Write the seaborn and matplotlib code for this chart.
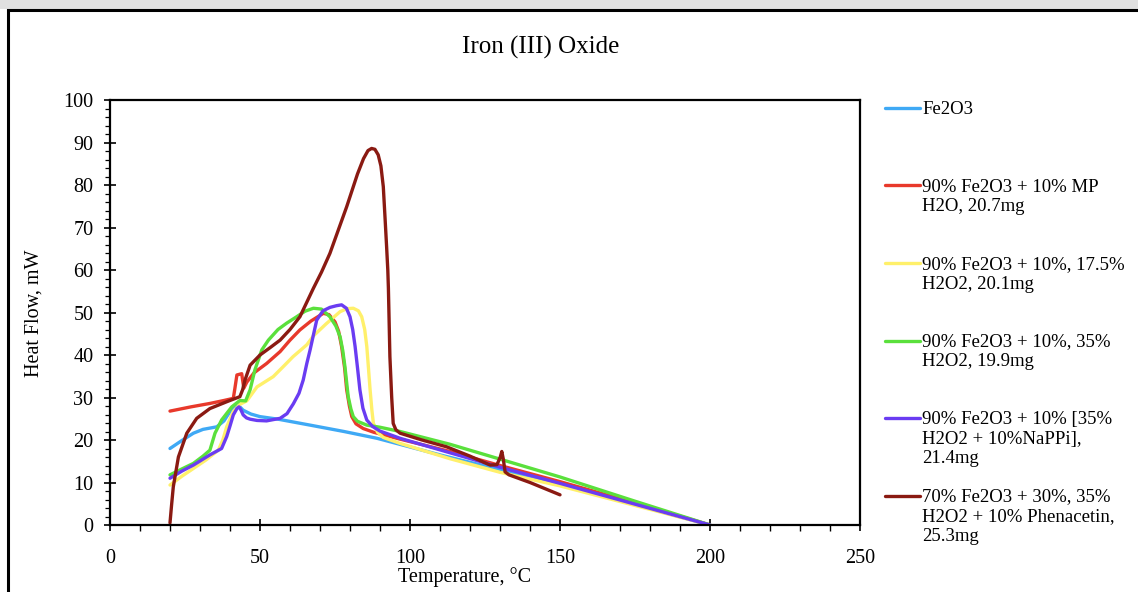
import matplotlib
matplotlib.use("Agg")
import matplotlib.pyplot as plt
from matplotlib.lines import Line2D
from matplotlib.patches import Rectangle
from matplotlib.ticker import MultipleLocator
import numpy as np
import pandas as pd
import seaborn as sns

# ---------------- data ----------------
title = "Iron (III) Oxide"
x_label = "Temperature, °C"
y_label = "Heat Flow, mW"

series_names = [
    "Fe2O3",
    "90% Fe2O3 + 10% MP\nH2O, 20.7mg",
    "90% Fe2O3 + 10%, 17.5%\nH2O2, 20.1mg",
    "90% Fe2O3 + 10%, 35%\nH2O2, 19.9mg",
    "90% Fe2O3 + 10% [35%\nH2O2 + 10%NaPPi],\n21.4mg",
    "70% Fe2O3 + 30%, 35%\nH2O2 + 10% Phenacetin,\n25.3mg",
]
series_colors = ["#3fa9f5", "#e8392b", "#fff06a", "#5ae03c", "#6a3cf2", "#8a1a12"]

fe2o3_t = [20, 24, 27.8, 31, 35.6, 38, 40, 41.8, 43, 44.4, 47, 50, 56, 66.7, 78, 89, 110, 130, 150, 175, 200]
fe2o3_v = [18, 19.9, 21.6, 22.5, 23.1, 24.5, 26.7, 27.8, 28.0, 27.0, 26.1, 25.5, 24.9, 23.5, 22.0, 20.4, 16.5, 13.0, 9.6, 4.8, 0]

mp_t = [20, 27, 33.3, 38, 41.1, 41.6, 42.3, 43.9, 44.6, 45.6, 48, 52.2, 56.7, 60, 63.3, 67, 71.1, 73, 75, 76.2, 77.2, 78.2, 78.9, 79.8, 80.6, 82, 84.4, 88, 96.7, 113.3, 130, 150, 175, 200]
mp_v = [26.8, 27.8, 28.6, 29.3, 29.8, 32.0, 35.3, 35.6, 32.2, 33.6, 35.8, 38.0, 40.8, 43.5, 45.9, 48.0, 49.8, 49.5, 47.8, 45.6, 42.0, 37.0, 31.8, 28.0, 25.5, 23.8, 22.7, 21.8, 20.2, 17.3, 14.0, 10.2, 5.2, 0]

h2o2_175_t = [20, 24, 27.8, 32, 36.1, 37.6, 38.9, 41.1, 43.3, 45.6, 49, 54.4, 57.8, 61, 65.6, 67.8, 72, 76.7, 79, 81.1, 82.8, 83.9, 84.9, 85.6, 86.2, 86.7, 87.3, 87.8, 89.2, 91.1, 96.7, 113.3, 130, 150, 175, 200]
h2o2_175_v = [9.4, 11.5, 13.3, 15.3, 17.6, 20.0, 23.1, 26.7, 28.4, 29.2, 32.5, 34.9, 37.3, 39.6, 42.4, 44.5, 47.3, 50.2, 50.9, 51.0, 50.4, 49.0, 46.0, 42.0, 36.5, 31.8, 27.0, 23.9, 21.8, 20.6, 19.2, 15.6, 12.4, 9.2, 4.6, 0]

h2o2_35_t = [20, 24, 27.8, 31, 33.3, 35, 37.2, 40.6, 43.3, 45.2, 46.7, 48.3, 50.6, 52.8, 56, 58.9, 62, 65, 67.8, 70.5, 73.3, 75.3, 76.7, 77.6, 78.3, 79.4, 80.3, 81.1, 82.5, 85.6, 90, 96.7, 113.3, 130, 150, 175, 200]
h2o2_35_v = [11.8, 13.2, 14.5, 16.2, 17.6, 21.6, 24.7, 27.8, 29.3, 29.2, 31.8, 36.5, 41.2, 43.5, 46.0, 47.5, 48.9, 50.3, 51.0, 50.8, 49.0, 46.8, 44.3, 41.0, 37.3, 30.2, 27.3, 25.5, 24.4, 23.5, 23.0, 22.0, 19.0, 15.5, 11.3, 5.6, 0]

nappi_t = [20, 24, 27.8, 33.3, 37.2, 38.9, 40, 41.1, 42.3, 43, 43.7, 44.4, 45.5, 46.7, 49, 52.2, 56.7, 59, 61.1, 63, 64.4, 65.6, 66.7, 68.9, 71, 73.3, 75.5, 77.2, 78.8, 80, 80.9, 81.7, 82.5, 83.3, 84.3, 85.6, 87.5, 90, 96.7, 113.3, 130, 150, 175, 200]
nappi_v = [11.0, 12.7, 14.1, 16.5, 18.0, 20.8, 23.3, 25.9, 27.4, 27.8, 27.0, 25.9, 25.2, 24.9, 24.6, 24.5, 25.1, 26.2, 28.5, 31.0, 34.1, 38.0, 41.2, 48.2, 50.4, 51.2, 51.6, 51.8, 51.0, 49.0, 46.0, 42.0, 37.0, 31.8, 27.5, 24.7, 23.2, 22.1, 20.4, 17.0, 13.6, 9.8, 4.9, 0]

phen_t = [20, 20.5, 21.1, 22.8, 25.6, 28.9, 33.3, 38.9, 43.3, 44.2, 45, 46.7, 50, 53.5, 56.7, 60, 63.3, 67.8, 70.5, 73.3, 78.9, 82.5, 84.5, 86.0, 87.2, 88.3, 89.4, 90.3, 91.1, 91.7, 92.2, 92.6, 92.8, 93.3, 93.9, 94.4, 95.3, 96.7, 104, 112.2, 120, 126.7, 129, 130.1, 130.6, 131.1, 131.7, 133, 140, 150]
phen_v = [0.5, 4.5, 9.0, 16.0, 21.6, 25.1, 27.4, 29.0, 30.2, 31.8, 34.1, 37.6, 40.0, 41.8, 43.5, 46.0, 49.0, 55.7, 59.5, 63.9, 74.9, 82.6, 86.2, 88.1, 88.6, 88.4, 87.1, 84.5, 79.6, 72.0, 65.5, 60.0, 55.7, 39.6, 30.0, 23.9, 22.4, 21.6, 20.0, 18.4, 16.2, 14.1, 14.2, 16.0, 17.3, 15.5, 12.5, 11.8, 10.0, 7.1]

series_t = [fe2o3_t, mp_t, h2o2_175_t, h2o2_35_t, nappi_t, phen_t]
series_v = [fe2o3_v, mp_v, h2o2_175_v, h2o2_35_v, nappi_v, phen_v]

x_ticks = [0, 50, 100, 150, 200, 250]
y_ticks = [0, 10, 20, 30, 40, 50, 60, 70, 80, 90, 100]

# ---------------- build long-form table ----------------
frames = []
for name, t, v in zip(series_names, series_t, series_v):
    frames.append(pd.DataFrame({"T": t, "V": v, "series": name}))
df = pd.concat(frames, ignore_index=True)

# ---------------- styling ----------------
sns.set_theme(style="white")
plt.rcParams["font.family"] = ["Liberation Serif", "DejaVu Serif"]

W, H = 1138, 592
fig = plt.figure(figsize=(W / 100, H / 100), dpi=100)
fig.patch.set_facecolor("white")

ax_l, ax_r, ax_t, ax_b = 110, 860, 100, 525
ax = fig.add_axes([ax_l / W, 1 - ax_b / H, (ax_r - ax_l) / W, (ax_b - ax_t) / H])

sns.lineplot(data=df, x="T", y="V", hue="series", hue_order=series_names,
             palette=dict(zip(series_names, series_colors)), estimator=None,
             sort=False, legend=False, linewidth=2.4, ax=ax)

ax.set_xlim(0, 250)
ax.set_ylim(0, 100)
ax.set_xticks(x_ticks)
ax.set_yticks(y_ticks)
ax.xaxis.set_minor_locator(MultipleLocator(10))
ax.yaxis.set_minor_locator(MultipleLocator(2))
ax.tick_params(axis="x", which="major", direction="inout", length=8, width=1.2,
               color="black", labelsize=14.5, pad=13, labelcolor="black", bottom=True)
ax.tick_params(axis="x", which="minor", direction="out", length=4, width=1.0,
               color="black", bottom=True)
ax.tick_params(axis="y", which="major", direction="inout", length=8, width=1.2,
               color="black", labelsize=14.5, pad=8, labelcolor="black", left=True)
ax.tick_params(axis="y", which="minor", direction="out", length=3.5, width=0.9,
               color="black", left=True)
for s in ax.spines.values():
    s.set_visible(True)
    s.set_color("black")
    s.set_linewidth(1.6)
ax.set_xlabel("")
ax.set_ylabel("")
ax.grid(False)

# titles / axis labels
fig.text(541 / W, 1 - 47 / H, title, ha="center", va="center", fontsize=18, color="black")
fig.text(465 / W, 1 - 577 / H, x_label, ha="center", va="center", fontsize=14.5, color="black")
fig.text(34 / W, 1 - 313 / H, y_label, ha="center", va="center", rotation=90,
         fontsize=14.5, color="black")

# legend (drawn at the right, outside the plot area)
leg_first_y = [108, 185.5, 263, 340.5, 418, 495.5]
for name, color, yy in zip(series_names, series_colors, leg_first_y):
    fig.add_artist(Line2D([885 / W, 920 / W], [1 - yy / H, 1 - yy / H], color=color,
                          linewidth=2.4, transform=fig.transFigure))
    fig.text(922 / W, 1 - (yy - 7) / H, name, ha="left", va="top", fontsize=13.5,
             color="black", linespacing=1.2)

# outer frame of the figure
fig.add_artist(Rectangle((0, 1 - 9 / H), 1, 9 / H, transform=fig.transFigure,
                         facecolor="#e0e0e0", edgecolor="none"))
fig.add_artist(Rectangle((8 / W, -0.05), 1.1, 1.05 - 10 / H, transform=fig.transFigure,
                         fill=False, edgecolor="black", linewidth=2.2, clip_on=False))

fig.savefig("out.png", dpi=100, facecolor="white")
